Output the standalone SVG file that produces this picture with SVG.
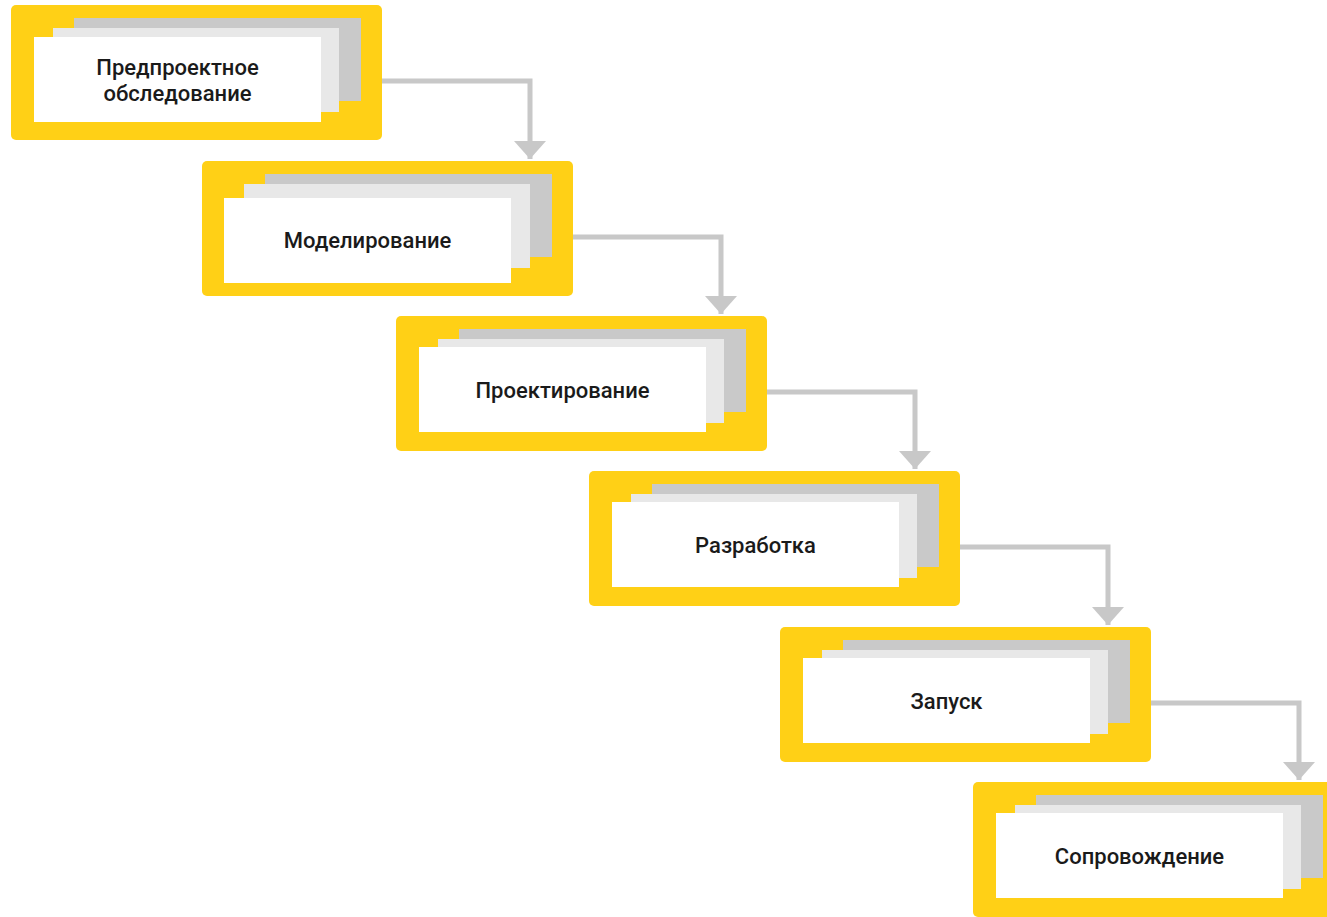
<svg xmlns="http://www.w3.org/2000/svg" width="1327" height="917" viewBox="0 0 1327 917">
<defs>
<style>
.y{fill:#FFD016}
.g{fill:#C9C9C9}
.l{fill:#E8E8E8}
.w{fill:#FFFFFF}
.t{font-family:Roboto,"Liberation Sans",sans-serif;font-weight:500;font-size:22px;fill:#1A1A1A;text-anchor:middle}
.c{fill:none;stroke:#C8C8C8;stroke-width:5}
</style>
<marker id="ah" markerUnits="userSpaceOnUse" markerWidth="18" markerHeight="32" refX="18" refY="16" orient="auto" viewBox="0 0 18 32">
<path d="M0,0 L18,16 L0,32 z" fill="#C8C8C8"/>
</marker>
<g id="back">
<rect class="y" x="0" y="0" width="371" height="135" rx="5"/>
<rect class="g" x="63" y="13" width="287" height="83"/>
<rect class="l" x="42" y="23" width="286" height="84"/>
</g>
</defs>
<rect width="1327" height="917" fill="#FFFFFF"/>
<g id="connectors">
<path class="c" d="M382,81 H530 V159" marker-end="url(#ah)"/>
<path class="c" d="M573,237 H721 V314" marker-end="url(#ah)"/>
<path class="c" d="M767,392 H915 V469" marker-end="url(#ah)"/>
<path class="c" d="M960,547 H1108 V625" marker-end="url(#ah)"/>
<path class="c" d="M1151,703 H1299 V780" marker-end="url(#ah)"/>
</g>
<g id="n1" transform="translate(11,5)">
<use href="#back"/>
<rect class="w" x="23" y="32" width="287" height="85"/>
<text class="t" x="166.5" y="70">Предпроектное</text>
<text class="t" x="166.5" y="96">обследование</text>
</g>
<g id="n2" transform="translate(202,161)">
<use href="#back"/>
<rect class="w" x="22" y="37" width="287" height="85"/>
<text class="t" x="165.5" y="87">Моделирование</text>
</g>
<g id="n3" transform="translate(396,316)">
<use href="#back"/>
<rect class="w" x="23" y="31" width="287" height="85"/>
<text class="t" x="166.5" y="81.5">Проектирование</text>
</g>
<g id="n4" transform="translate(589,471)">
<use href="#back"/>
<rect class="w" x="23" y="31" width="287" height="85"/>
<text class="t" x="166.5" y="81.5">Разработка</text>
</g>
<g id="n5" transform="translate(780,627)">
<use href="#back"/>
<rect class="w" x="23" y="31" width="287" height="85"/>
<text class="t" x="166.5" y="81.5">Запуск</text>
</g>
<g id="n6" transform="translate(973,782)">
<use href="#back"/>
<rect class="w" x="23" y="31" width="287" height="85"/>
<text class="t" x="166.5" y="81.5">Сопровождение</text>
</g>
</svg>
